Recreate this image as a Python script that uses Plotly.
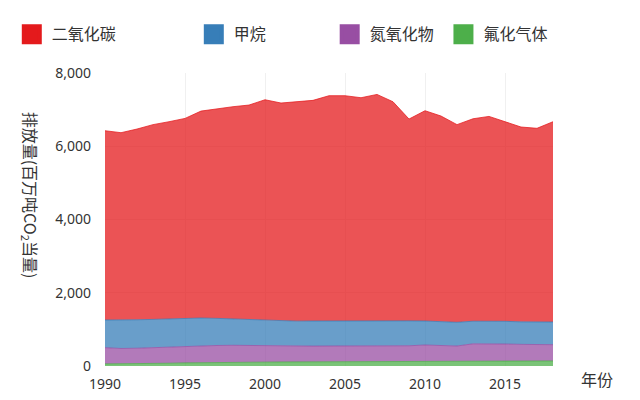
import plotly.graph_objects as go

# US greenhouse gas emissions, million tonnes CO2 equivalent
years = list(range(1990, 2019))

co2 = [5168, 5120, 5208, 5318, 5387, 5460, 5650, 5725, 5795, 5860,
       6033, 5955, 5982, 6025, 6150, 6143, 6085, 6168, 5975, 5511,
       5742, 5613, 5397, 5528, 5590, 5450, 5320, 5287, 5469]
methane = [756, 772, 777, 772, 768, 760, 750, 740, 720, 705,
           691, 685, 683, 684, 684, 691, 692, 691, 685, 680,
           655, 647, 647, 617, 617, 620, 615, 618, 619]
nitrous = [442, 420, 423, 432, 440, 455, 468, 462, 460, 452,
           434, 430, 430, 430, 430, 428, 428, 432, 430, 430,
           445, 435, 416, 473, 474, 465, 455, 449, 444]
fluorinated = [58, 58, 62, 68, 75, 85, 92, 98, 105, 108,
               112, 110, 112, 114, 116, 118, 120, 124, 125, 122,
               128, 130, 130, 132, 134, 135, 135, 136, 138]

names = ['二氧化碳', '甲烷', '氮氧化物', '氟化气体']
colors = ['rgb(228,26,28)', 'rgb(55,126,184)', 'rgb(152,78,163)', 'rgb(77,175,74)']
fills = ['rgba(228,26,28,0.75)', 'rgba(55,126,184,0.75)',
         'rgba(152,78,163,0.75)', 'rgba(77,175,74,0.75)']
series = [co2, methane, nitrous, fluorinated]

fig = go.Figure()

# stack from the bottom up: fluorinated gases first, CO2 last
for i in [3, 2, 1, 0]:
    fig.add_trace(go.Scatter(
        x=years, y=series[i], mode='lines', stackgroup='ghg',
        line=dict(color=fills[i], width=1), fillcolor=fills[i],
        showlegend=False, hoverinfo='skip'))

# legend swatches, one legend box each so they can sit where the original has them
# (container coords so they don't push the margins around)
legend_x = [0.006, 0.294, 0.509, 0.689]
legend_keys = ['legend', 'legend2', 'legend3', 'legend4']
for i in range(4):
    fig.add_trace(go.Scatter(
        x=[None], y=[None], mode='markers', name=names[i],
        marker=dict(symbol='square', size=20, color=colors[i],
                    line=dict(color=colors[i], width=4)),
        legend=legend_keys[i]))

legend_style = dict(orientation='h', xref='container', yref='container',
                    yanchor='middle', y=0.933, xanchor='left',
                    font=dict(size=16, color='#333'), bgcolor='rgba(0,0,0,0)')
layout_legends = {}
for key, lx in zip(legend_keys, legend_x):
    layout_legends[key] = dict(legend_style, x=lx)

# page body adds an 8px margin, so the figure is a bit smaller than the window
fig.update_layout(
    width=632, height=392,
    margin=dict(l=97, r=87, t=65, b=34),
    paper_bgcolor='white', plot_bgcolor='white',
    font=dict(family='Noto Sans, Noto Sans CJK SC', size=14, color='#333'),
    xaxis=dict(range=[1990, 2018], tick0=1990, dtick=5, showgrid=True,
               gridcolor='#f0f0f0', zeroline=False, showline=False,
               ticklabelstandoff=8, automargin=False),
    yaxis=dict(range=[0, 8000], dtick=2000, tickformat=',', showgrid=True,
               gridcolor='#f0f0f0', zeroline=False, showline=False,
               ticklabelstandoff=13, automargin=False),
    annotations=[
        dict(text='排放量(百万吨CO<sub>2</sub>当量)', textangle=90,
             xref='paper', yref='paper', x=-0.167, y=0.584,
             xanchor='center', yanchor='middle',
             showarrow=False, font=dict(size=16, color='#333',
                                        family='Noto Sans CJK SC')),
        dict(text='年份', xref='paper', yref='paper', x=1.098, y=-0.044,
             xanchor='center', yanchor='middle',
             showarrow=False, font=dict(size=16, color='#333',
                                        family='Noto Sans CJK SC')),
    ],
    **layout_legends,
)

fig.write_html("out.html")
